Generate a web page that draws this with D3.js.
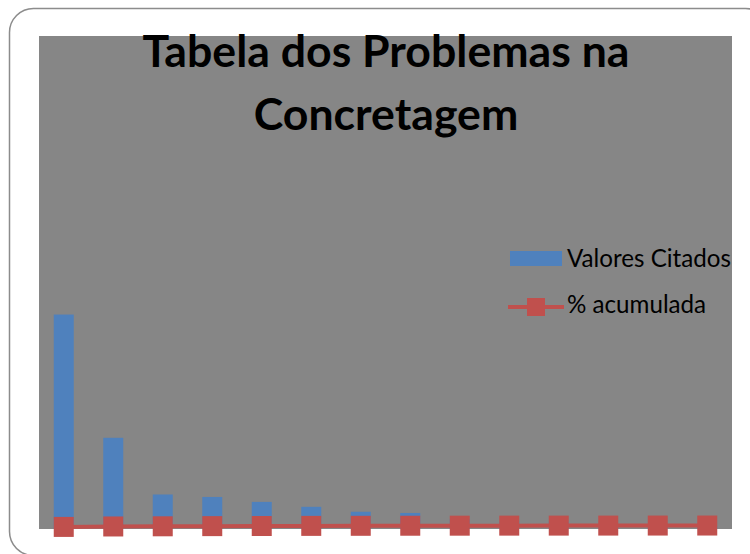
<!DOCTYPE html>
<html lang="pt">
	<head>
		<meta charset="utf-8">
		<title>Tabela dos Problemas na Concretagem</title>
		<script src="https://d3js.org/d3.v7.min.js"></script>
		<style type="text/css">
body {
    margin: 0;
    background: #fff;
    overflow: hidden;
}
text {
    font-family: Lato, "Open Sans", sans-serif;
}
		</style>
	</head>
	<body>
		<script type="text/javascript">

			// chart data
			var categories = ["P1", "P2", "P3", "P4", "P5", "P6", "P7", "P8", "P9", "P10", "P11", "P12", "P13", "P14"];
			var valores = [87, 37, 14, 13, 11, 9, 7, 6.5, 4, 3, 3, 2, 2, 1];
			var acumulada = [0.44, 0.62, 0.69, 0.76, 0.81, 0.86, 0.89, 0.92, 0.94, 0.96, 0.97, 0.98, 0.99, 1.00];
			var yDomain = [0, 200];
			var titleLines = ["Tabela dos Problemas na", "Concretagem"];
			var legendNames = ["Valores Citados", "% acumulada"];

			var w = 750;
			var h = 554;

			// plot area
			var plot = { left: 39, right: 732, top: 36, bottom: 529 };

			var svg = d3.select("body")
						.append("svg")
						.attr("width", w)
						.attr("height", h)
						.style("display", "block");

			// outer frame (runs off the right and bottom edges)
			svg.append("rect")
				.attr("x", 9.5)
				.attr("y", 8.5)
				.attr("width", 760)
				.attr("height", 547)
				.attr("rx", 24)
				.attr("ry", 24)
				.style("fill", "#fff")
				.style("stroke", "#8c8c8c")
				.style("stroke-width", 1.5);

			// gray plot background
			svg.append("rect")
				.attr("x", plot.left)
				.attr("y", plot.top)
				.attr("width", plot.right - plot.left)
				.attr("height", plot.bottom - plot.top)
				.style("fill", "#868686");

			var x = d3.scaleBand()
				.domain(categories)
				.range([plot.left, plot.right])
				.padding(0);

			var y = d3.scaleLinear()
				.domain(yDomain)
				.range([plot.bottom, plot.top]);

			var barW = 20;

			// bars
			svg.selectAll(".bar")
				.data(valores)
				.enter()
				.append("rect")
				.attr("class", "bar")
				.attr("x", function(d, i) { return x(categories[i]) + x.bandwidth() / 2 - barW / 2; })
				.attr("y", function(d) { return y(d); })
				.attr("width", barW)
				.attr("height", function(d) { return y(0) - y(d); })
				.style("fill", "#4f81bd");

			// cumulative line
			var line = d3.line()
				.x(function(d, i) { return x(categories[i]) + x.bandwidth() / 2; })
				.y(function(d) { return y(d) - 1; });

			svg.append("path")
				.datum(acumulada)
				.attr("d", line)
				.style("fill", "none")
				.style("stroke", "#c0504d")
				.style("stroke-width", 4);

			// square markers
			svg.selectAll(".marker")
				.data(acumulada)
				.enter()
				.append("rect")
				.attr("class", "marker")
				.attr("x", function(d, i) { return x(categories[i]) + x.bandwidth() / 2 - 10; })
				.attr("y", function(d) { return y(d) - 11; })
				.attr("width", 20)
				.attr("height", 20)
				.style("fill", "#c0504d");

			// title
			var title = svg.append("g").attr("class", "title");
			title.selectAll("text")
				.data(titleLines)
				.enter()
				.append("text")
				.attr("x", 386)
				.attr("y", function(d, i) { return 67 + i * 63; })
				.attr("text-anchor", "middle")
				.attr("font-size", "40px")
				.attr("font-weight", "bold")
				.style("fill", "#000")
				.text(function(d) { return d; });

			// fit first title line to width of original
			var t0 = title.select("text").node().getComputedTextLength();
			var fs = 40 * 487 / t0;
			title.selectAll("text").attr("font-size", fs + "px");

			// legend
			var legend = svg.append("g").attr("class", "legend");

			legend.append("rect")
				.attr("x", 510)
				.attr("y", 251)
				.attr("width", 52)
				.attr("height", 15)
				.style("fill", "#4f81bd");

			legend.append("line")
				.attr("x1", 508)
				.attr("x2", 564)
				.attr("y1", 307)
				.attr("y2", 307)
				.style("stroke", "#c0504d")
				.style("stroke-width", 4);

			legend.append("rect")
				.attr("x", 527)
				.attr("y", 298)
				.attr("width", 18)
				.attr("height", 18)
				.style("fill", "#c0504d");

			legend.selectAll(".leg_text")
				.data(legendNames)
				.enter()
				.append("text")
				.attr("class", "leg_text")
				.attr("x", 567)
				.attr("y", function(d, i) { return 267 + i * 46; })
				.attr("font-size", "20px")
				.style("fill", "#000")
				.text(function(d) { return d; });

			// fit legend text width
			var lt = legend.select(".leg_text").node().getComputedTextLength();
			legend.selectAll(".leg_text").attr("font-size", (20 * 164 / lt) + "px");

		</script>
	</body>
</html>
